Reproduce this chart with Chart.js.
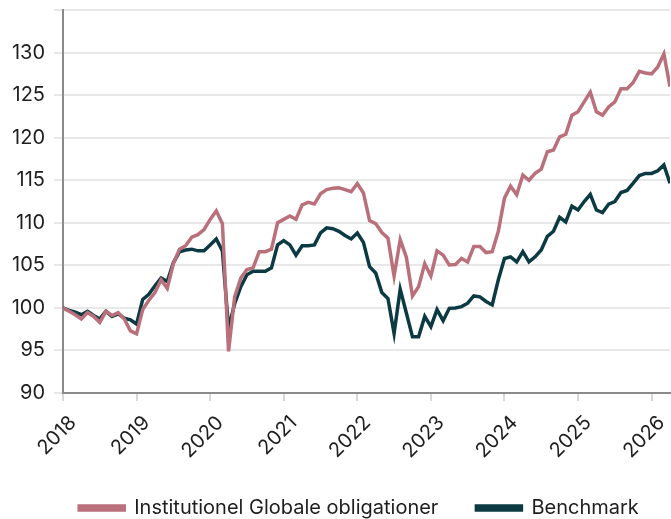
<!DOCTYPE html>
<html>
<head>
<meta charset="utf-8">
<script src="https://cdn.jsdelivr.net/npm/chart.js@4"></script>
<style>
  body { margin: 0; background: #fff; }
  canvas { display: block; }
</style>
</head>
<body>
<canvas id="grafik" width="671" height="519"></canvas>
<script>
// maanedlige indeksvaerdier, jan 2018 = 100 (jan 2018 .. apr 2026)
const startAar = 2018;
const fondNavn = "Institutionel Globale obligationer";
const benchNavn = "Benchmark";

const fond = [
  100.0, 99.6, 99.2, 98.7, 99.45, 99.0, 98.3, 99.6, 99.1, 99.45, 98.7, 97.3,
  96.95, 99.8, 100.9, 101.8, 103.3, 102.3, 105.2, 106.9, 107.3, 108.3, 108.6, 109.2,
  110.4, 111.4, 109.9, 94.9, 101.3, 103.5, 104.5, 104.7, 106.6, 106.6, 106.9, 110.0,
  110.4, 110.8, 110.4, 112.1, 112.4, 112.2, 113.4, 113.9, 114.05, 114.1, 113.9, 113.65,
  114.6, 113.5, 110.25, 109.9, 108.85, 108.2, 103.75, 108.0, 105.95, 101.4, 102.5, 105.2,
  103.75, 106.7, 106.2, 105.05, 105.1, 105.8, 105.4, 107.2, 107.2, 106.5, 106.6, 109.0,
  112.9, 114.3, 113.3, 115.6, 115.0, 115.8, 116.3, 118.35, 118.55, 120.1, 120.4, 122.65,
  123.05, 124.2, 125.35, 123.05, 122.65, 123.6, 124.2, 125.75, 125.75, 126.5, 127.8, 127.6,
  127.5, 128.3, 129.85, 126.0
];

const benchmark = [
  100.0, 99.7, 99.5, 99.2, 99.6, 99.1, 98.7, 99.6, 99.0, 99.3, 98.8, 98.6,
  98.1, 101.0, 101.6, 102.6, 103.5, 103.1, 105.3, 106.6, 106.8, 106.9, 106.7, 106.7,
  107.4, 108.1, 106.7, 97.6, 100.5, 102.5, 103.9, 104.3, 104.3, 104.3, 104.7, 107.4,
  107.9, 107.4, 106.2, 107.3, 107.3, 107.4, 108.8, 109.4, 109.3, 109.0, 108.5, 108.1,
  108.8, 107.7, 104.85, 104.1, 101.8, 101.1, 97.0, 102.2, 99.4, 96.6, 96.6, 99.0,
  97.8, 99.8, 98.5, 99.95, 100.0, 100.15, 100.55, 101.4, 101.3, 100.75, 100.35, 103.3,
  105.8, 106.0, 105.4, 106.6, 105.4, 106.0, 106.8, 108.4, 109.0, 110.65, 110.1, 111.95,
  111.5, 112.5, 113.35, 111.5, 111.2, 112.2, 112.5, 113.55, 113.8, 114.65, 115.55, 115.8,
  115.8, 116.1, 116.8, 114.65
];

const yTicks = [90, 95, 100, 105, 110, 115, 120, 125, 130];
const xTicks = [2018, 2019, 2020, 2021, 2022, 2023, 2024, 2025, 2026];

const fondFarve = "#b9707a";
const benchFarve = "#0c3a43";
const skrift = "Inter, sans-serif";

const punkter = (arr) => arr.map((v, i) => ({ x: startAar + i / 12, y: v }));
const slutX = startAar + (fond.length - 1) / 12;

// legenden staar lidt til hoejre for midten i originalen
const flytLegende = {
  id: "flytLegende",
  afterLayout(chart) {
    chart.legend.left += 24;
    chart.legend.right += 24;
  },
};

const ctx = document.getElementById("grafik").getContext("2d");

new Chart(ctx, {
  type: "line",
  data: {
    datasets: [
      {
        label: fondNavn,
        data: punkter(fond),
        borderColor: fondFarve,
        backgroundColor: fondFarve,
        borderWidth: 3.5,
        pointRadius: 0,
        tension: 0,
      },
      {
        label: benchNavn,
        data: punkter(benchmark),
        borderColor: benchFarve,
        backgroundColor: benchFarve,
        borderWidth: 3.5,
        pointRadius: 0,
        tension: 0,
      },
    ],
  },
  plugins: [flytLegende],
  options: {
    responsive: false,
    animation: false,
    layout: { padding: { top: 10, right: 1, left: 0, bottom: -9 } },
    plugins: {
      tooltip: { enabled: false },
      legend: {
        position: "bottom",
        labels: {
          boxWidth: 45,
          boxHeight: 4,
          padding: 38,
          color: "#1e1e1e",
          font: { family: skrift, size: 20 },
        },
      },
    },
    scales: {
      x: {
        type: "linear",
        min: startAar,
        max: slutX,
        border: { color: "#8a8a8a", width: 2 },
        grid: {
          drawOnChartArea: false,
          drawTicks: true,
          tickLength: 8,
          color: "#d8d8d8",
          lineWidth: 2,
        },
        afterBuildTicks: (axis) => {
          axis.ticks = xTicks.map((v) => ({ value: v }));
        },
        afterFit: (axis) => {
          axis.height = 67;
          axis.paddingLeft = 0;
          axis.paddingRight = 0;
        },
        ticks: {
          maxRotation: 45,
          minRotation: 45,
          autoSkip: false,
          labelOffset: 10,
          padding: 10,
          color: "#1e1e1e",
          font: { family: skrift, size: 20 },
          callback: (v) => String(v),
        },
      },
      y: {
        min: 90,
        max: 135,
        border: { color: "#8a8a8a", width: 2 },
        grid: {
          color: "#e8e8e8",
          lineWidth: 2,
          tickLength: 9,
        },
        afterBuildTicks: (axis) => {
          axis.ticks = yTicks.concat([135]).map((v) => ({ value: v }));
        },
        afterFit: (axis) => {
          axis.width = 63;
          axis.paddingTop = 0;
          axis.paddingBottom = 0;
        },
        ticks: {
          padding: 9,
          color: "#1e1e1e",
          font: { family: skrift, size: 20 },
          callback: (v) => (yTicks.includes(v) ? String(v) : ""),
        },
      },
    },
  },
});
</script>
</body>
</html>
